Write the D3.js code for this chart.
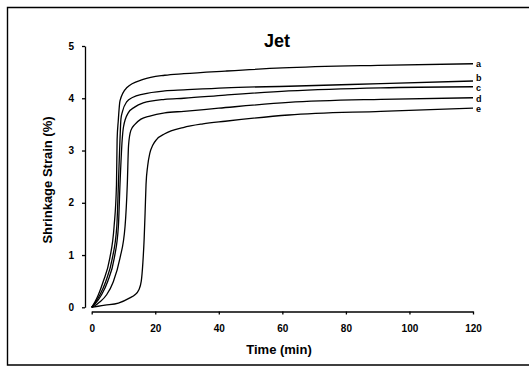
<!DOCTYPE html>
<html>
<head>
<meta charset="utf-8">
<script src="https://cdn.jsdelivr.net/npm/d3@7"></script>
<style>
  body { margin: 0; background: #fff; }
  svg { display: block; font-family: 'Liberation Sans', Arial, sans-serif; }
  .axis path, .axis line { stroke: #000; stroke-width: 1.3px; }
  .axis text { font-size: 10px; font-weight: bold; fill: #000; }
</style>
</head>
<body>
<svg width="530" height="367">
  <g id="vis"></g>
</svg>
<script>
// curve labels, top to bottom
const seriesNames = ['a', 'b', 'c', 'd', 'e']

// time (min) / shrinkage strain (%)
const timeA = [0, 1, 2.1, 3.6, 5.7, 7.05, 7.8, 8.0, 8.35, 8.9, 11.0, 16.2, 23, 29, 42, 60, 90, 120]
const strainA = [0, 0.1, 0.24, 0.49, 0.94, 1.55, 2.35, 3.21, 3.56, 3.95, 4.2, 4.36, 4.44, 4.47, 4.52, 4.58, 4.63, 4.66]

const timeB = [0, 1, 2.6, 4.4, 6.5, 7.9, 8.4, 8.9, 9.2, 9.7, 11, 13, 16.2, 23, 29, 42, 62, 91, 120]
const strainB = [0, 0.08, 0.24, 0.49, 0.94, 1.55, 2.35, 3.21, 3.6, 3.75, 3.93, 4.02, 4.08, 4.14, 4.16, 4.2, 4.23, 4.28, 4.33]

const timeC = [0, 1, 3.1, 5.0, 7.1, 8.4, 8.9, 9.6, 10.0, 11.5, 13.5, 16.2, 23, 29, 42, 62, 91, 120]
const strainC = [0, 0.06, 0.24, 0.49, 0.94, 1.55, 2.35, 3.21, 3.45, 3.72, 3.83, 3.91, 3.98, 4.0, 4.06, 4.14, 4.2, 4.22]

const timeD = [0, 1, 2.5, 4.7, 6.8, 8.9, 10.5, 11.2, 11.6, 12.3, 13.6, 15.5, 18.3, 23, 29, 40, 62, 91, 120]
const strainD = [0, 0.03, 0.1, 0.24, 0.49, 0.94, 1.55, 2.35, 3.1, 3.38, 3.5, 3.6, 3.66, 3.72, 3.75, 3.81, 3.92, 3.98, 4.01]

const timeE = [0, 2, 4.2, 8.4, 12, 13.6, 14.8, 15.6, 16.1, 16.5, 16.8, 17.1, 17.6, 18.3, 19.2, 20.4, 23, 28.8, 35, 42, 62, 91, 120]
const strainE = [0, 0.02, 0.04, 0.08, 0.18, 0.24, 0.33, 0.5, 0.85, 1.3, 1.8, 2.35, 2.7, 2.95, 3.1, 3.21, 3.32, 3.44, 3.51, 3.56, 3.68, 3.75, 3.81]

const xTicks = [0, 20, 40, 60, 80, 100, 120]
const yTicks = [0, 1, 2, 3, 4, 5]

const svg = d3.select('svg')
const vis = svg.select('#vis')

const xScale = d3.scaleLinear().domain([0, 120]).range([91.7, 473])
const yScale = d3.scaleLinear().domain([0, 5]).range([307.3, 46])

const series = [
  [timeA, strainA], [timeB, strainB], [timeC, strainC], [timeD, strainD], [timeE, strainE]
].map(function (s, i) {
  return { name: seriesNames[i], points: s[0].map(function (t, j) { return [t, s[1][j]] }) }
})

// outer frame (right edge falls off the scan)
vis.append('path')
  .attr('d', 'M529,7.5H7.5V365H529')
  .style('fill', 'none')
  .style('stroke', '#000')
  .style('stroke-width', 1.4)

// y axis, set a little left of x = 0
vis.append('g')
  .attr('class', 'axis')
  .attr('transform', 'translate(85,0)')
  .call(d3.axisLeft(yScale).tickValues(yTicks).tickFormat(d3.format('d'))
    .tickSize(3).tickSizeOuter(0).tickPadding(8))

// x axis, set a little below y = 0
vis.append('g')
  .attr('class', 'axis')
  .attr('transform', 'translate(0,311.5)')
  .call(d3.axisBottom(xScale).tickValues(xTicks).tickFormat(d3.format('d'))
    .tickSize(3).tickSizeOuter(0).tickPadding(10))

const line = d3.line()
  .x(function (d) { return xScale(d[0]) })
  .y(function (d) { return yScale(d[1]) })
  .curve(d3.curveMonotoneX)

vis.selectAll('.curve')
  .data(series)
  .enter().append('path')
  .attr('class', 'curve')
  .attr('d', function (d) { return line(d.points) })
  .style('fill', 'none')
  .style('stroke', '#000')
  .style('stroke-width', 1.3)

// end labels; b to e nudged apart like in the source
const nudge = { a: 0, b: -3.5, c: 1.5, d: 1.5, e: 0.8 }
vis.selectAll('.end-label')
  .data(series)
  .enter().append('text')
  .attr('class', 'end-label')
  .attr('x', xScale(120) + 3)
  .attr('y', function (d) { return yScale(d.points[d.points.length - 1][1]) + nudge[d.name] })
  .attr('dy', '0.35em')
  .style('font-size', '9px')
  .style('font-weight', 'bold')
  .text(function (d) { return d.name })

// title and axis titles
vis.append('text')
  .attr('x', 277)
  .attr('y', 46.5)
  .style('text-anchor', 'middle')
  .style('font-size', '18px')
  .style('font-weight', 'bold')
  .text('Jet')

vis.append('text')
  .attr('x', 279)
  .attr('y', 353.5)
  .style('text-anchor', 'middle')
  .style('font-size', '13px')
  .style('font-weight', 'bold')
  .text('Time (min)')

vis.append('text')
  .attr('transform', 'translate(51.5,180) rotate(-90)')
  .style('text-anchor', 'middle')
  .style('font-size', '13px')
  .style('font-weight', 'bold')
  .text('Shrinkage Strain (%)')
</script>
</body>
</html>
